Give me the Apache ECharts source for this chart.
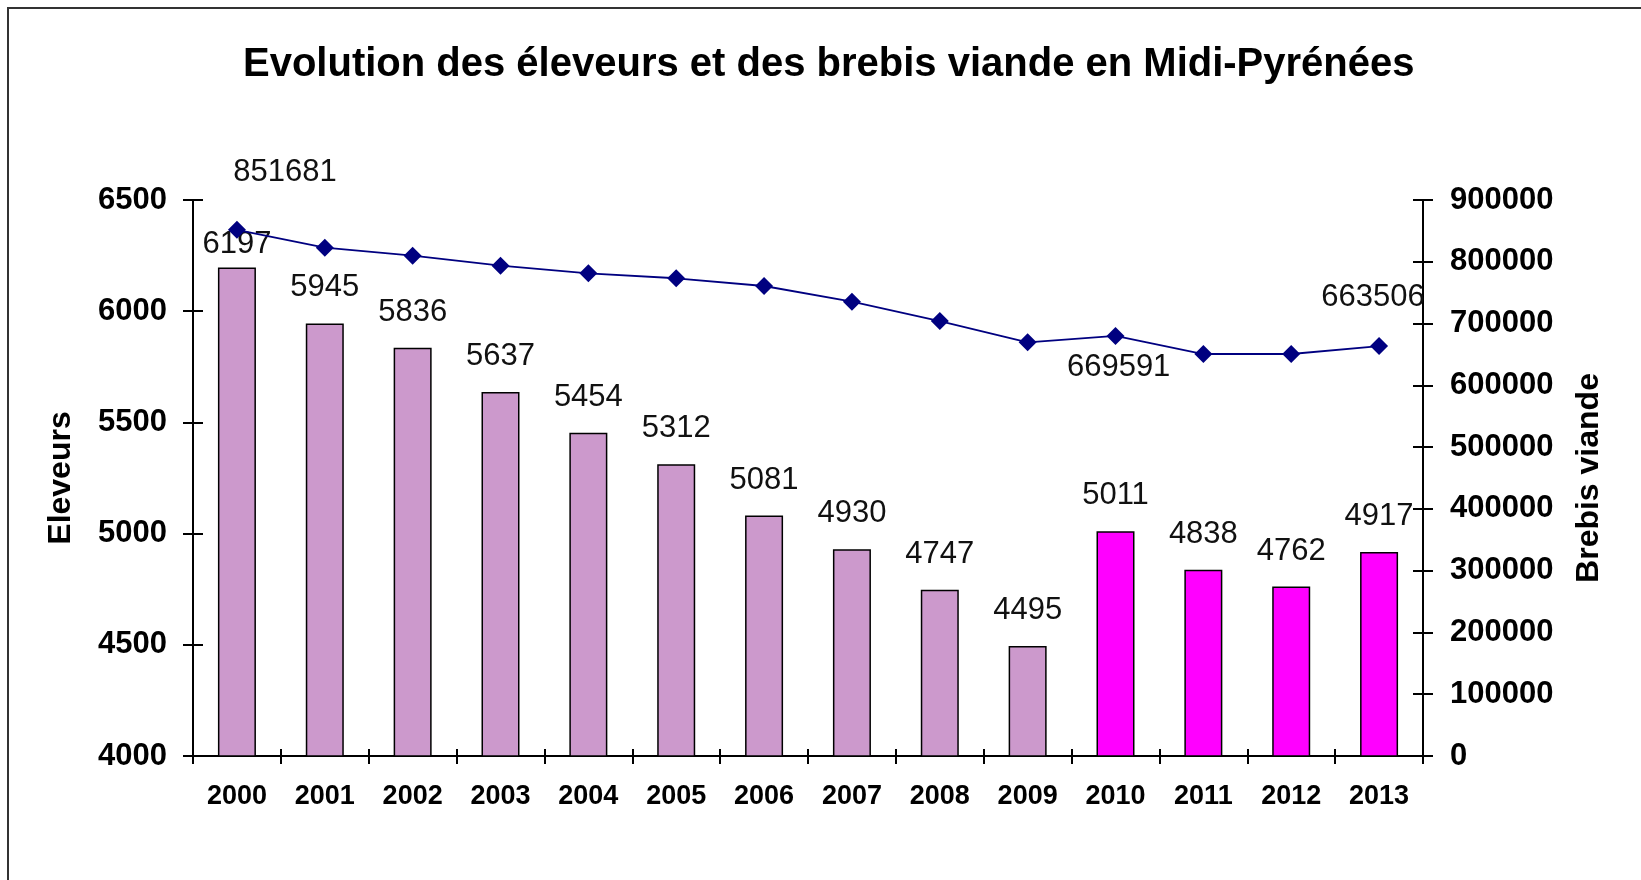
<!DOCTYPE html>
<html>
<head>
<meta charset="utf-8">
<script src="https://cdn.jsdelivr.net/npm/echarts@6/dist/echarts.min.js"></script>
<style>
html,body{margin:0;padding:0;background:#fff;}
#c{width:1641px;height:880px;}
</style>
</head>
<body>
<div id="c"></div>
<script>
const years = ['2000','2001','2002','2003','2004','2005','2006','2007','2008','2009','2010','2011','2012','2013'];
const eleveurs = [6197, 5945, 5836, 5637, 5454, 5312, 5081, 4930, 4747, 4495, 5011, 4838, 4762, 4917];
const brebis = [851681, 822800, 809800, 793700, 781300, 773300, 760800, 735400, 704100, 669591, 679900, 650700, 650700, 663506];
const leftTicks = {min: 4000, max: 6500, interval: 500};
const rightTicks = {min: 0, max: 900000, interval: 100000};
const highlightFromYear = '2010';

const FONT = 'Liberation Sans, Arial, sans-serif';
const lilac = '#CC99CC', magenta = '#FF00FF', navy = '#000080';
const hiIndex = years.indexOf(highlightFromYear);

const barData = eleveurs.map((v, i) => {
  const item = {value: v, itemStyle: {color: i >= hiIndex ? magenta : lilac}};
  if (i === 0) item.label = {distance: 7};
  return item;
});

const lineLabelBase = {show: true, fontFamily: FONT, fontSize: 31, color: '#111', formatter: p => String(p.value)};
const lineData = brebis.map((v, i) => {
  const item = {value: v};
  if (i === 0) item.label = Object.assign({}, lineLabelBase, {position: 'top', offset: [48, -28]});
  if (i === 9) item.label = Object.assign({}, lineLabelBase, {position: 'bottom', offset: [91, -4]});
  if (i === 13) item.label = Object.assign({}, lineLabelBase, {position: 'top', offset: [-6, -19]});
  return item;
});

const axisLineStyle = {show: true, lineStyle: {color: '#000', width: 2}};
const tickStyle = {lineStyle: {color: '#000', width: 2}};
const plain = v => String(v);

const chart = echarts.init(document.getElementById('c'), null, {renderer: 'canvas'});
chart.setOption({
  animation: false,
  backgroundColor: '#fff',
  title: {
    text: 'Evolution des éleveurs et des brebis viande en Midi-Pyrénées',
    left: 238, top: 40,
    textStyle: {fontFamily: FONT, fontSize: 40, fontWeight: 'bold', color: '#000'}
  },
  graphic: [{
    type: 'rect', silent: true, z: 100,
    shape: {x: 8, y: 8, width: 2000, height: 2000},
    style: {fill: 'none', stroke: '#333', lineWidth: 2}
  }],
  grid: {left: 193, right: 218, top: 200, bottom: 124, containLabel: false},
  xAxis: [{
    type: 'category', data: years, position: 'bottom',
    axisLine: axisLineStyle,
    axisTick: Object.assign({show: true, length: 8, alignWithLabel: false}, tickStyle),
    axisLabel: {fontFamily: FONT, fontSize: 27, fontWeight: 'bold', color: '#000', margin: 27},
    splitLine: {show: false}
  }, {
    type: 'category', data: years, position: 'bottom', offset: 0,
    axisLine: {show: false},
    axisTick: Object.assign({show: true, inside: true, length: 7}, tickStyle),
    axisLabel: {show: false}, splitLine: {show: false}
  }],
  yAxis: [{
    type: 'value', position: 'left',
    min: leftTicks.min, max: leftTicks.max, interval: leftTicks.interval,
    name: 'Eleveurs', nameLocation: 'middle', nameGap: 116, nameRotate: 90,
    nameTextStyle: {fontFamily: FONT, fontSize: 32, fontWeight: 'bold', color: '#000'},
    axisLine: axisLineStyle,
    axisTick: Object.assign({show: true, length: 10}, tickStyle),
    axisLabel: {fontFamily: FONT, fontSize: 31, fontWeight: 'bold', color: '#000', margin: 26, formatter: plain},
    splitLine: {show: false}
  }, {
    type: 'value', position: 'right',
    min: rightTicks.min, max: rightTicks.max, interval: rightTicks.interval,
    name: 'Brebis viande', nameLocation: 'middle', nameGap: 150, nameRotate: 90,
    nameTextStyle: {fontFamily: FONT, fontSize: 32, fontWeight: 'bold', color: '#000'},
    axisLine: axisLineStyle,
    axisTick: Object.assign({show: true, length: 10}, tickStyle),
    axisLabel: {fontFamily: FONT, fontSize: 31, fontWeight: 'bold', color: '#000', margin: 27, formatter: plain},
    splitLine: {show: false}
  }, {
    type: 'value', position: 'left',
    min: leftTicks.min, max: leftTicks.max, interval: leftTicks.interval,
    axisLine: {show: false},
    axisTick: Object.assign({show: true, inside: true, length: 10}, tickStyle),
    axisLabel: {show: false}, splitLine: {show: false}
  }, {
    type: 'value', position: 'right',
    min: rightTicks.min, max: rightTicks.max, interval: rightTicks.interval,
    axisLine: {show: false},
    axisTick: Object.assign({show: true, inside: true, length: 10}, tickStyle),
    axisLabel: {show: false}, splitLine: {show: false}
  }],
  series: [{
    type: 'bar', name: 'Eleveurs', yAxisIndex: 0,
    data: barData, barWidth: 38,
    itemStyle: {borderColor: '#000', borderWidth: 1.5},
    label: {show: true, position: 'top', distance: 20, fontFamily: FONT, fontSize: 31, color: '#111'}
  }, {
    type: 'line', name: 'Brebis viande', yAxisIndex: 1,
    data: lineData,
    symbol: 'diamond', symbolSize: 18,
    itemStyle: {color: navy},
    lineStyle: {color: navy, width: 1.8},
    label: {show: false},
    z: 5
  }]
});
</script>
</body>
</html>
